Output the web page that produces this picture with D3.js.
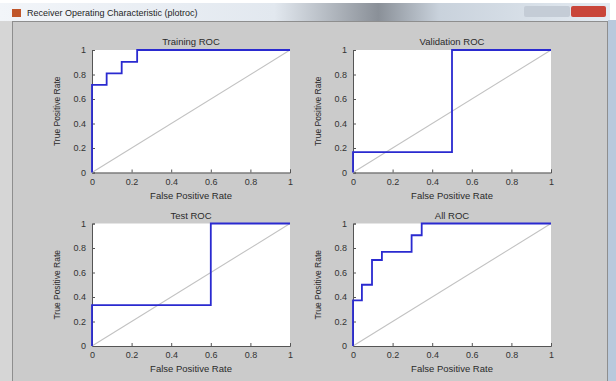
<!DOCTYPE html>
<html>
<head>
<meta charset="utf-8">
<script src="https://cdn.jsdelivr.net/npm/d3@7/dist/d3.min.js"></script>
<style>
  html, body { margin: 0; padding: 0; background: #ffffff; }
  svg { display: block; font-family: Arial, "Liberation Sans", sans-serif; }
</style>
</head>
<body>
<svg id="chart" width="616" height="381"></svg>
<script>
// ROC curves (false positive rate, true positive rate)
const panelTitles = ['Training ROC', 'Validation ROC', 'Test ROC', 'All ROC'];
const trainingFpr = [0, 0, 0.074, 0.074, 0.15, 0.15, 0.228, 0.228, 1];
const trainingTpr = [0, 0.716, 0.716, 0.81, 0.81, 0.903, 0.903, 1, 1];
const validationFpr = [0, 0, 0.5, 0.5, 1];
const validationTpr = [0, 0.167, 0.167, 1, 1];
const testFpr = [0, 0, 0.6, 0.6, 1];
const testTpr = [0, 0.333, 0.333, 1, 1];
const allFpr = [0, 0, 0.045, 0.045, 0.096, 0.096, 0.146, 0.146, 0.296, 0.296, 0.347, 0.347, 1];
const allTpr = [0, 0.372, 0.372, 0.5, 0.5, 0.702, 0.702, 0.768, 0.768, 0.904, 0.904, 1, 1];
const tickValues = [0, 0.2, 0.4, 0.6, 0.8, 1];

const curves = [
  {fpr: trainingFpr, tpr: trainingTpr},
  {fpr: validationFpr, tpr: validationTpr},
  {fpr: testFpr, tpr: testTpr},
  {fpr: allFpr, tpr: allTpr}
];

const svg = d3.select('#chart');

// window chrome
const bar = svg.append('defs').append('linearGradient')
  .attr('id', 'titlebar').attr('x1', 0).attr('x2', 1);
bar.append('stop').attr('offset', '0%').attr('stop-color', '#f2f5f9');
bar.append('stop').attr('offset', '45%').attr('stop-color', '#e2e8ef');
bar.append('stop').attr('offset', '62%').attr('stop-color', '#8a9098');
bar.append('stop').attr('offset', '72%').attr('stop-color', '#c9d2dc');
bar.append('stop').attr('offset', '100%').attr('stop-color', '#e4ebf2');

svg.append('rect').attr('x', 0).attr('y', 3).attr('width', 610).attr('height', 378).attr('fill', '#d6d6d6');
svg.append('rect').attr('x', 0).attr('y', 3).attr('width', 610).attr('height', 18).attr('fill', 'url(#titlebar)');
svg.append('rect').attr('x', 608).attr('y', 20).attr('width', 8).attr('height', 361).attr('fill', '#b9c9dc');
svg.append('rect').attr('x', 12.5).attr('y', 21.5).attr('width', 595).attr('height', 370)
  .attr('fill', '#cbcbcb').attr('stroke', '#8e8e8e');

svg.append('rect').attr('x', 12).attr('y', 9).attr('width', 9).attr('height', 8).attr('fill', '#c0562a');
svg.append('text').attr('x', 27).attr('y', 16).attr('font-size', 9).attr('fill', '#1e1e1e')
  .text('Receiver Operating Characteristic (plotroc)');
svg.append('rect').attr('x', 524).attr('y', 6).attr('width', 46).attr('height', 11).attr('fill', '#c4ccd6').attr('rx', 2);
svg.append('rect').attr('x', 571).attr('y', 6).attr('width', 35).attr('height', 11).attr('fill', '#c9463a').attr('rx', 2);

// panel layout
const cols = [92, 353];
const rows = [50, 223.5];
const pw = 198, ph = 122.5;

curves.forEach((c, i) => {
  const x0 = cols[i % 2], y0 = rows[Math.floor(i / 2)];
  const x = d3.scaleLinear().domain([0, 1]).range([0, pw]);
  const y = d3.scaleLinear().domain([0, 1]).range([ph, 0]);
  const g = svg.append('g').attr('transform', `translate(${x0},${y0})`);

  g.append('rect').attr('width', pw).attr('height', ph).attr('fill', '#ffffff');

  const xAxis = g.append('g').attr('transform', `translate(0,${ph})`)
    .call(d3.axisBottom(x).tickValues(tickValues).tickSize(-3).tickPadding(6).tickFormat(d3.format('')));
  const yAxis = g.append('g')
    .call(d3.axisLeft(y).tickValues(tickValues).tickSize(-3).tickPadding(6).tickFormat(d3.format('')));
  [xAxis, yAxis].forEach(a => {
    a.select('.domain').attr('stroke', '#555555');
    a.selectAll('.tick line').attr('stroke', '#555555');
    a.selectAll('.tick text').attr('fill', '#333333').attr('font-size', 9)
      .attr('font-family', 'Arial, "Liberation Sans", sans-serif');
  });

  g.append('line')
    .attr('x1', x(0)).attr('y1', y(0)).attr('x2', x(1)).attr('y2', y(1))
    .attr('stroke', '#c2c2c2').attr('stroke-width', 1.1);

  const pts = c.fpr.map((f, k) => [f, c.tpr[k]]);
  g.append('path')
    .datum(pts)
    .attr('d', d3.line().x(d => x(d[0])).y(d => y(d[1])))
    .attr('fill', 'none').attr('stroke', '#2a2ad0').attr('stroke-width', 1.8);

  g.append('text').attr('x', pw / 2).attr('y', -5).attr('text-anchor', 'middle')
    .attr('font-size', 9.5).attr('fill', '#2a2a2a').text(panelTitles[i]);
  g.append('text').attr('x', pw / 2).attr('y', ph + 26).attr('text-anchor', 'middle')
    .attr('font-size', 9.5).attr('fill', '#2a2a2a').text('False Positive Rate');
  g.append('text')
    .attr('transform', `translate(${-32},${ph / 2}) rotate(-90)`)
    .attr('text-anchor', 'middle').attr('font-size', 8.5).attr('fill', '#2a2a2a')
    .text('True Positive Rate');
});
</script>
</body>
</html>
